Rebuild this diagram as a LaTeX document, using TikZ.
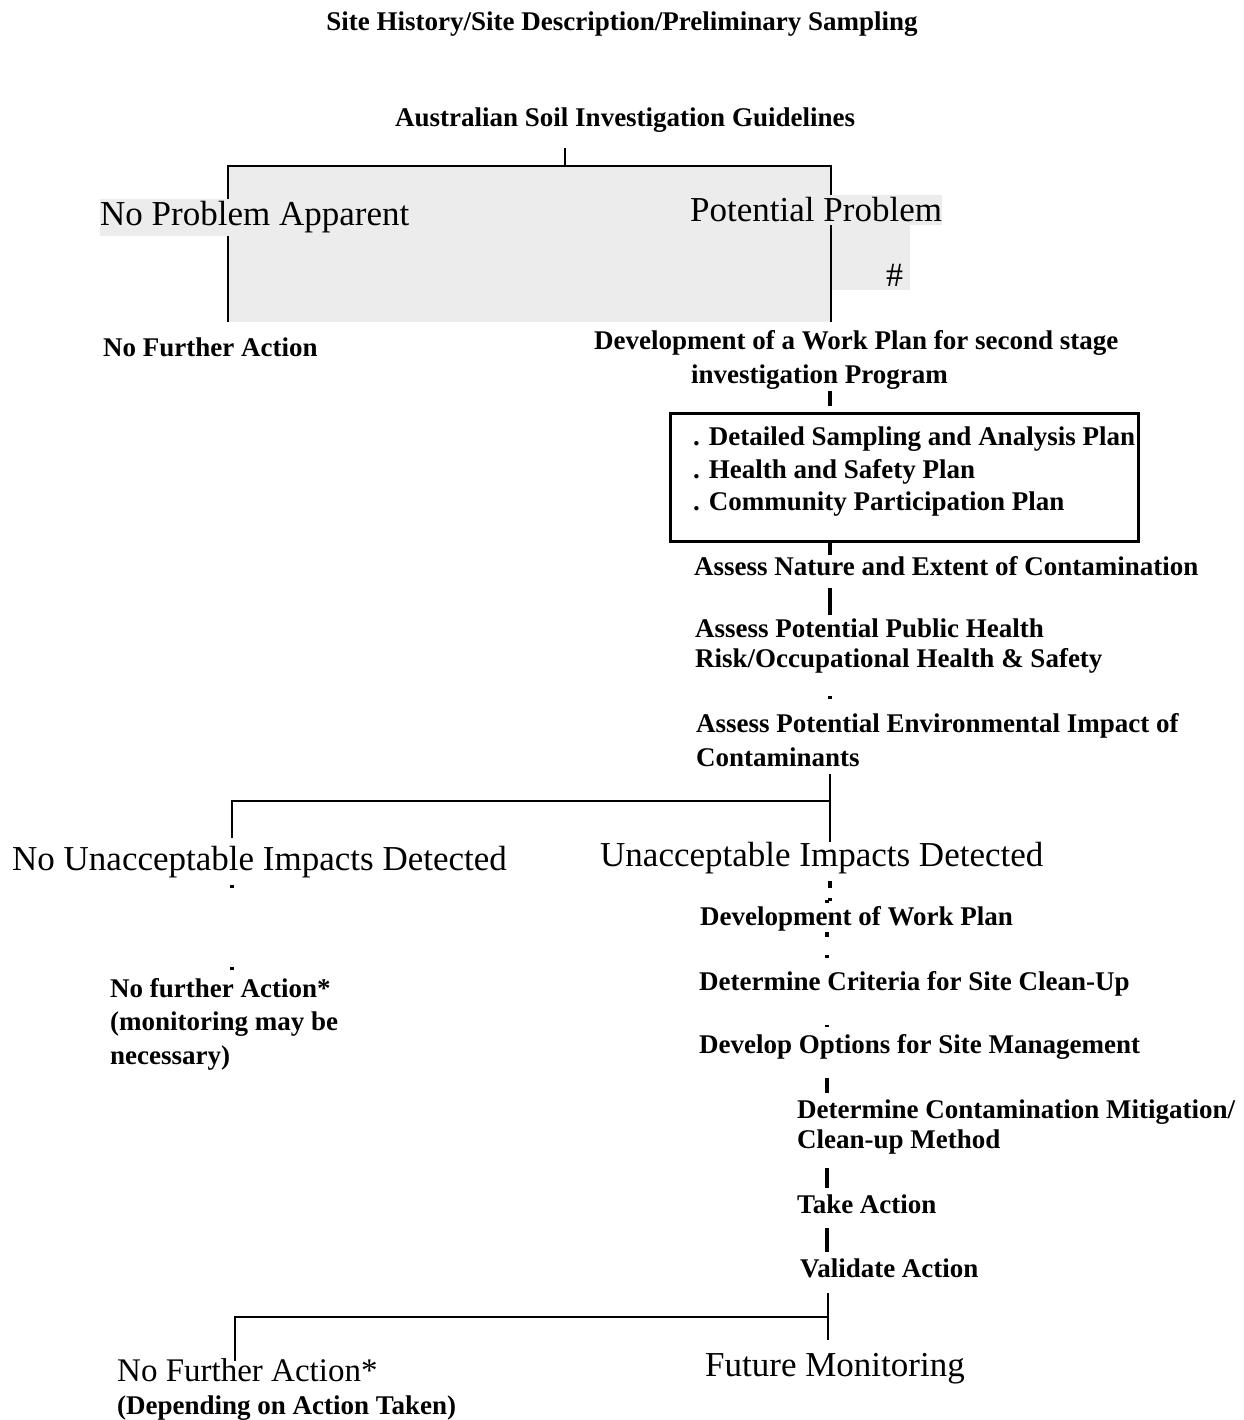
\documentclass[tikz,border=0pt]{standalone}
\usepackage{fontspec}
\setmainfont{Liberation Serif}
\usetikzlibrary{backgrounds,calc}
\definecolor{bggray}{RGB}{236,236,236}
\begin{document}
\begin{tikzpicture}[x=1pt,y=-1pt,
  ln/.style={line width=2.6pt},
  tick/.style={line width=3.2pt},
  bigt/.style={font=\fontsize{35}{40}\selectfont, inner sep=0pt, anchor=base west},
  bft/.style={font=\fontsize{27}{33}\selectfont\bfseries, inner sep=0pt, anchor=base west}]
\useasboundingbox (0,0) rectangle (1243,1420);

% --- text nodes ---
\node[bft, anchor=base] (title) at (622,31) {Site History/Site Description/Preliminary Sampling};
\node[bft] (aus) at (395,127) {Australian Soil Investigation Guidelines};
\node[bigt, fill=bggray, inner ysep=3pt] (npa) at (100,226) {No Problem Apparent};
\node[bigt, fill=bggray, inner ysep=3pt] (pp) at (690,222) {Potential Problem};
\node[font=\fontsize{34}{40}\selectfont, inner sep=0pt, anchor=base west] (hash) at (886,287) {\#};
\node[bft] (nfa1) at (103,356) {No Further Action};
\node[bft] (dev1) at (594,349) {Development of a Work Plan for second stage};
\node[bft] (dev2) at (691,383) {investigation Program};

\node[draw, line width=2.6pt, minimum width=468pt, minimum height=128pt, anchor=north west, inner sep=0pt] (plan) at (669,412) {};
\node[bft] (p1) at (693,445) {. Detailed Sampling and Analysis Plan};
\node[bft] (p2) at (693,478) {. Health and Safety Plan};
\node[bft] (p3) at (693,510) {. Community Participation Plan};

\node[bft] (an) at (694,575) {Assess Nature and Extent of Contamination};
\node[bft] (ph1) at (695,637) {Assess Potential Public Health};
\node[bft] (ph2) at (695,667) {Risk/Occupational Health \& Safety};
\node[bft] (env1) at (696,732) {Assess Potential Environmental Impact of};
\node[bft] (env2) at (696,766) {Contaminants};

\node[bigt] (nu) at (12,870) {No Unacceptable Impacts Detected};
\node[bigt] (ui) at (600,866) {Unacceptable Impacts Detected};

\node[bft] (dwp) at (700,925) {Development of Work Plan};
\node[bft] (dc) at (699,990) {Determine Criteria for Site Clean-Up};
\node[bft] (dop) at (699,1053) {Develop Options for Site Management};
\node[bft] (nf1) at (110,997) {No further Action*};
\node[bft] (nf2) at (110,1030) {(monitoring may be};
\node[bft] (nf3) at (110,1064) {necessary)};

\node[bft] (dm1) at (797,1118) {Determine Contamination Mitigation/};
\node[bft] (dm2) at (797,1148) {Clean-up Method};
\node[bft] (ta) at (797,1213) {Take Action};
\node[bft] (va) at (800,1277) {Validate Action};

\node[bigt, font=\fontsize{33}{38}\selectfont] (nfb) at (117,1381) {No Further Action*};
\node[bft] (nfb2) at (117,1414) {(Depending on Action Taken)};
\node[bigt] (fm) at (705,1376) {Future Monitoring};

% --- junction coordinates ---
\coordinate (j1) at (565,166);
\coordinate (tl) at (228,166);
\coordinate (tr) at (831,166);
\coordinate (cx) at (830,0);
\coordinate (cy) at (827,0);
\coordinate (b1r) at (830,801);
\coordinate (b1l) at (232,801);
\coordinate (b2r) at (828,1317);
\coordinate (b2l) at (235,1317);

\begin{scope}[on background layer]
  \fill[white] (0,0) rectangle (1243,1420);
  \fill[bggray] (tl) rectangle (831,322);
  \fill[bggray] (831,225) rectangle (910,290);
  % top branch
  \draw[ln] ($(aus.base -| j1)+(0,21)$) -- (j1);
  \draw[ln] ($(tl |- nfa1.base)+(0,-34)$) -- (tl) -- (tr) -- ($(tr |- dev1.base)+(0,-27)$);
\end{scope}

% --- chain ticks ---
\draw[tick] ($(dev2.base -| cx)+(0,8)$) -- ++(0,15);
\draw[tick] (cx |- plan.south) -- ++(0,12);
\draw[tick] ($(an.base -| cx)+(0,13)$) -- ++(0,27);
\draw[tick] ($(ph2.base -| cx)+(0,29)$) -- ++(0,3);

% --- middle branch ---
\draw[ln] ($(env2.base -| b1r)+(0,8)$) -- (b1r) -- (b1l) -- ($(b1l |- nu.base)+(0,-32)$);
\draw[ln] (b1r) -- ($(b1r |- ui.base)+(0,-24)$);
\draw[tick] ($(nu.base -| b1l)+(0,15)$) -- ++(0,3);
\draw[tick] ($(ui.base -| cx)+(0,15)$) -- ++(0,7);
\draw[tick] ($(ui.base -| cx)+(0,32)$) -- ++(0,3);
\draw[tick] ($(dwp.base -| cy)+(0,-25)$) -- ++(0,3);
\draw[tick] ($(dwp.base -| cy)+(0,7)$) -- ++(0,5);
\draw[tick] ($(dc.base -| cy)+(0,-35)$) -- ++(0,3);
\draw[tick] ($(dop.base -| cy)+(0,-28)$) -- ++(0,2);
\draw[tick] ($(nf1.base -| b1l)+(0,-30)$) -- ++(0,3);
\draw[tick] ($(dop.base -| cy)+(0,25)$) -- ++(0,15);
\draw[tick] ($(dm2.base -| cy)+(0,20)$) -- ++(0,20);
\draw[tick] ($(ta.base -| cy)+(0,15)$) -- ++(0,24);

% --- bottom branch ---
\draw[ln] ($(va.base -| b2r)+(0,16)$) -- (b2r) -- (b2l) -- ($(b2l |- nfb.base)+(0,-20)$);
\draw[ln] (b2r) -- ++(0,23);
\end{tikzpicture}
\end{document}
